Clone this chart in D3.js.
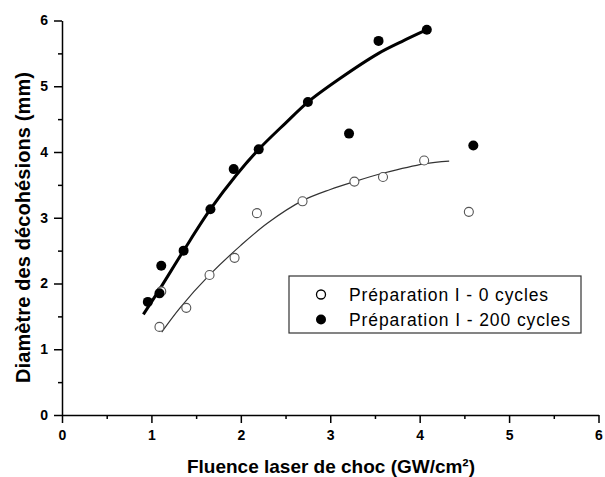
<!DOCTYPE html>
<html lang="fr">
<head>
<meta charset="UTF-8">
<title>Diamètre des décohésions</title>
<script src="https://d3js.org/d3.v7.min.js"></script>
<style>
  body { margin: 0; background: #fff; }
  svg { display: block; font-family: Arial, "Liberation Sans", sans-serif; }
  .axis path, .axis line { stroke: #000; stroke-width: 1.5px; }
  .axis text { font-size: 14px; font-weight: bold; fill: #000; }
  .axis-title { font-size: 19px; font-weight: bold; fill: #000; }
  .legend text { font-size: 17.5px; fill: #000; }
</style>
</head>
<body>
<svg id="chart" width="605" height="477"></svg>
<script>
// measured points, Préparation I - 0 cycles (open)
const fluence0 = [1.09, 1.11, 1.39, 1.65, 1.93, 2.18, 2.69, 3.27, 3.59, 4.05, 4.55];
const diam0    = [1.34, 1.88, 1.63, 2.13, 2.39, 3.07, 3.25, 3.55, 3.62, 3.87, 3.09];

// measured points, Préparation I - 200 cycles (filled)
const fluence200 = [0.96, 1.09, 1.11, 1.36, 1.66, 1.92, 2.20, 2.75, 3.21, 3.54, 4.08, 4.60];
const diam200    = [1.72, 1.85, 2.27, 2.50, 3.13, 3.74, 4.04, 4.76, 4.28, 5.69, 5.86, 4.10];

// fitted curves
const fitX0 = [1.115, 1.32, 1.65, 2.0, 2.3, 2.69, 3.0, 3.27, 3.6, 4.05, 4.33];
const fitY0 = [1.26, 1.63, 2.13, 2.58, 2.92, 3.26, 3.43, 3.55, 3.68, 3.82, 3.86];
const fitX200 = [0.91, 1.1, 1.36, 1.66, 1.95, 2.2, 2.5, 2.75, 3.1, 3.54, 3.8, 4.08];
const fitY200 = [1.53, 1.93, 2.50, 3.13, 3.65, 4.04, 4.44, 4.76, 5.11, 5.50, 5.68, 5.86];

const seriesLabels = ["Préparation I - 0 cycles", "Préparation I - 200 cycles"];
const majorTicks = [0, 1, 2, 3, 4, 5, 6];
const minorTicks = [0.5, 1.5, 2.5, 3.5, 4.5, 5.5];

const svg = d3.select("#chart");
const x = d3.scaleLinear().domain([0, 6]).range([62, 598.5]);
const y = d3.scaleLinear().domain([0, 6]).range([415, 20.5]);

// axes: major ticks with labels, minor ticks shorter
const xMinor = svg.append("g").attr("class", "axis")
  .attr("transform", `translate(0,${y(0)})`)
  .call(d3.axisBottom(x).tickValues(minorTicks).tickSize(4).tickSizeOuter(0).tickFormat(""));
const xMajor = svg.append("g").attr("class", "axis")
  .attr("transform", `translate(0,${y(0)})`)
  .call(d3.axisBottom(x).tickValues(majorTicks).tickSize(8).tickSizeOuter(0).tickPadding(7).tickFormat(d3.format("d")));
const yMinor = svg.append("g").attr("class", "axis")
  .attr("transform", `translate(${x(0)},0)`)
  .call(d3.axisLeft(y).tickValues(minorTicks).tickSize(4).tickSizeOuter(0).tickFormat(""));
const yMajor = svg.append("g").attr("class", "axis")
  .attr("transform", `translate(${x(0)},0)`)
  .call(d3.axisLeft(y).tickValues(majorTicks).tickSize(8).tickSizeOuter(0).tickPadding(6).tickFormat(d3.format("d")));
yMinor.select(".domain").remove();
xMinor.select(".domain").remove();

svg.append("text").attr("class", "axis-title")
  .attr("x", 331).attr("y", 473)
  .attr("text-anchor", "middle")
  .attr("textLength", 288)
  .text("Fluence laser de choc (GW/cm²)");

svg.append("text").attr("class", "axis-title")
  .attr("transform", `translate(30,227.5) rotate(-90)`)
  .attr("text-anchor", "middle")
  .attr("textLength", 311)
  .style("font-size", "20px")
  .text("Diamètre des décohésions (mm)");

// fit lines
const line = d3.line().x(d => x(d[0])).y(d => y(d[1])).curve(d3.curveCatmullRom);

svg.append("path")
  .datum(d3.zip(fitX0, fitY0))
  .attr("d", line)
  .attr("fill", "none")
  .attr("stroke", "#333")
  .attr("stroke-width", 1.2);

svg.append("path")
  .datum(d3.zip(fitX200, fitY200))
  .attr("d", line)
  .attr("fill", "none")
  .attr("stroke", "#000")
  .attr("stroke-width", 3);

// points
svg.append("g").selectAll("circle")
  .data(d3.zip(fluence0, diam0))
  .join("circle")
  .attr("cx", d => x(d[0]))
  .attr("cy", d => y(d[1]))
  .attr("r", 4.5)
  .attr("fill", "#fff")
  .attr("stroke", "#555")
  .attr("stroke-width", 1.1);

svg.append("g").selectAll("circle")
  .data(d3.zip(fluence200, diam200))
  .join("circle")
  .attr("cx", d => x(d[0]))
  .attr("cy", d => y(d[1]))
  .attr("r", 5)
  .attr("fill", "#000");

// legend
const legendWidths = [199, 221];
const legend = svg.append("g").attr("class", "legend");
legend.append("rect")
  .attr("x", 289).attr("y", 276)
  .attr("width", 292).attr("height", 57)
  .attr("fill", "#fff")
  .attr("stroke", "#333")
  .attr("stroke-width", 1.2);

seriesLabels.forEach((label, i) => {
  const cy = 294.5 + i * 25;
  legend.append("circle")
    .attr("cx", 321).attr("cy", cy)
    .attr("r", i === 0 ? 4.5 : 5)
    .attr("fill", i === 0 ? "#fff" : "#000")
    .attr("stroke", i === 0 ? "#000" : "none")
    .attr("stroke-width", 1.3);
  legend.append("text")
    .attr("x", 349).attr("y", cy + 6)
    .attr("textLength", legendWidths[i])
    .text(label);
});
</script>
</body>
</html>
